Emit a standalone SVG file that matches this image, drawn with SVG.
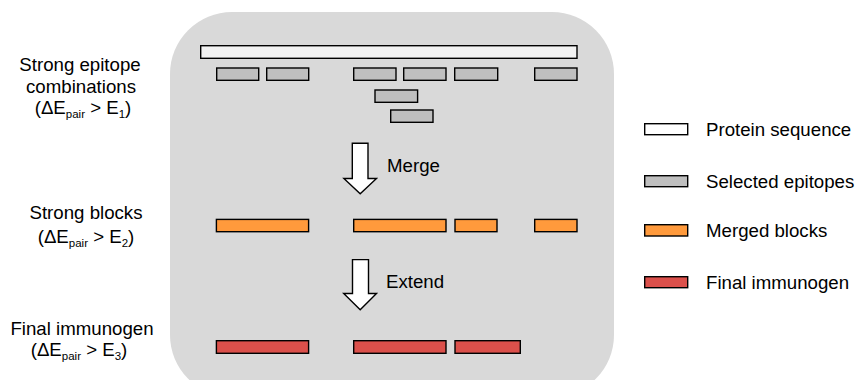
<svg xmlns="http://www.w3.org/2000/svg" width="858" height="380" viewBox="0 0 858 380">
  <style>
    text { font-family: "Liberation Sans", Arial, sans-serif; font-size: 18.67px; fill: #000; }
    .lbl { text-anchor: middle; }
    .sub { font-size: 11.5px; }
    .bar { stroke: #000; stroke-width: 1.4; }
    .seq { fill: #f2f2f2; }
    .epi { fill: #bfbfbf; }
    .blk { fill: #ff9a3c; }
    .imm { fill: #db504b; }
    .arrow { fill: #fff; stroke: #000; stroke-width: 1.4; stroke-linejoin: miter; }
  </style>

  <!-- background panel -->
  <rect id="panel" x="170" y="12" width="444" height="385" rx="62" ry="62" fill="#d9d9d9"/>

  <!-- stage labels -->
  <g id="label-combinations">
    <text class="lbl" x="80" y="71">Strong epitope</text>
    <text class="lbl" x="81" y="92.5">combinations</text>
    <text class="lbl" x="83" y="113.5">(ΔE<tspan class="sub" dy="4">pair</tspan><tspan dy="-4"> &gt; E</tspan><tspan class="sub" dy="4">1</tspan><tspan dy="-4">)</tspan></text>
  </g>
  <g id="label-blocks">
    <text class="lbl" x="86" y="219">Strong blocks</text>
    <text class="lbl" x="86" y="243">(ΔE<tspan class="sub" dy="4">pair</tspan><tspan dy="-4"> &gt; E</tspan><tspan class="sub" dy="4">2</tspan><tspan dy="-4">)</tspan></text>
  </g>
  <g id="label-immunogen">
    <text class="lbl" x="82" y="334.5">Final immunogen</text>
    <text class="lbl" x="79" y="355.5">(ΔE<tspan class="sub" dy="4">pair</tspan><tspan dy="-4"> &gt; E</tspan><tspan class="sub" dy="4">3</tspan><tspan dy="-4">)</tspan></text>
  </g>

  <!-- protein sequence -->
  <g id="protein">
    <rect class="bar seq" x="200.7" y="45.7" width="376.3" height="12.6"/>
  </g>

  <!-- selected epitopes -->
  <g id="epitopes">
    <rect class="bar epi" x="216.7" y="68" width="42" height="12.3"/>
    <rect class="bar epi" x="266.7" y="68" width="42" height="12.3"/>
    <rect class="bar epi" x="353.7" y="68" width="42.3" height="12.3"/>
    <rect class="bar epi" x="403.7" y="68" width="42.3" height="12.3"/>
    <rect class="bar epi" x="454.7" y="68" width="43" height="12.3"/>
    <rect class="bar epi" x="534.7" y="68" width="42.3" height="12.3"/>
    <rect class="bar epi" x="375" y="90" width="42.6" height="12.3"/>
    <rect class="bar epi" x="390.7" y="110" width="42.3" height="12.3"/>
  </g>

  <!-- merged blocks -->
  <g id="blocks">
    <rect class="bar blk" x="216.4" y="219.4" width="92.2" height="12.3"/>
    <rect class="bar blk" x="353.7" y="219.4" width="92.3" height="12.3"/>
    <rect class="bar blk" x="455" y="219.4" width="42" height="12.3"/>
    <rect class="bar blk" x="534.7" y="219.4" width="42.3" height="12.3"/>
  </g>

  <!-- final immunogen -->
  <g id="immunogen">
    <rect class="bar imm" x="216.4" y="340.7" width="92.2" height="12.6"/>
    <rect class="bar imm" x="353.7" y="340.7" width="92.3" height="12.6"/>
    <rect class="bar imm" x="455" y="340.7" width="65.3" height="12.6"/>
  </g>

  <!-- process arrows -->
  <g id="connectors">
    <polygon class="arrow" points="352.3,143.2 368,143.2 368,178.5 376.5,178.5 360.2,193.8 343.9,178.5 352.3,178.5"/>
    <polygon class="arrow" points="352.5,259.6 368.5,259.6 368.5,293.5 376.5,293.5 360.2,309.8 343.7,293.5 352.5,293.5"/>
    <text x="387" y="172">Merge</text>
    <text x="386" y="288">Extend</text>
  </g>

  <!-- legend -->
  <g id="legend-protein">
    <rect class="bar" fill="#fff" x="644.7" y="123.7" width="43" height="11"/>
    <text x="706" y="135.7">Protein sequence</text>
  </g>
  <g id="legend-epitopes">
    <rect class="bar epi" x="644.7" y="175.7" width="43" height="11"/>
    <text x="706" y="187.7">Selected epitopes</text>
  </g>
  <g id="legend-blocks">
    <rect class="bar blk" x="644.7" y="224.7" width="43" height="11.3"/>
    <text x="706" y="237">Merged blocks</text>
  </g>
  <g id="legend-immunogen">
    <rect class="bar imm" x="644.7" y="276.7" width="43" height="11"/>
    <text x="706" y="288.7">Final immunogen</text>
  </g>
</svg>
